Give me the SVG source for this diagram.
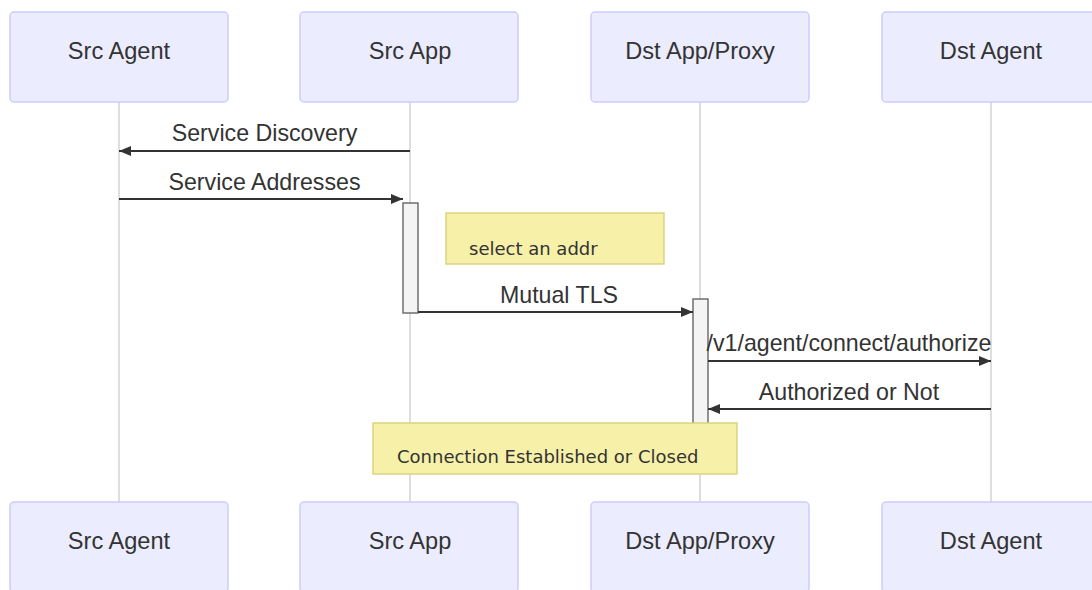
<svg xmlns="http://www.w3.org/2000/svg" width="1092" height="590" viewBox="0 0 1092 590">
<defs>
<style>
.actor{fill:#ECECFF;stroke:#CCCCFF;stroke-width:1.5}
.atext{font-family:"Liberation Sans",Arial,sans-serif;font-size:23.6px;fill:#333;text-anchor:middle}
.life{stroke:#cccccc;stroke-width:1.3;fill:none}
.msg{stroke:#333;stroke-width:2.2;fill:none;marker-end:url(#ah)}
.mtext{font-family:"Liberation Sans",Arial,sans-serif;font-size:23.2px;fill:#333;text-anchor:middle}
.act{fill:#f4f4f4;stroke:#666;stroke-width:1.4}
.note{fill:#f6f0a8;stroke:#d8d27a;stroke-width:1.4}
.ntext{font-family:"DejaVu Sans",Verdana,sans-serif;font-size:18px;fill:#333}
</style>
<marker id="ah" viewBox="0 0 12 10" refX="12" refY="5" markerWidth="12" markerHeight="10" markerUnits="userSpaceOnUse" orient="auto">
<path d="M0,0 L12,5 L0,10 z" fill="#333"/>
</marker>
</defs>
<rect width="1092" height="590" fill="#ffffff"/>
<g id="lifelines">
<line class="life" x1="119" y1="102" x2="119" y2="502"/>
<line class="life" x1="410" y1="102" x2="410" y2="502"/>
<line class="life" x1="700" y1="102" x2="700" y2="502"/>
<line class="life" x1="991" y1="102" x2="991" y2="502"/>
</g>
<g id="actor-src-agent">
<rect class="actor" x="10" y="12" width="218" height="90" rx="4"/>
<text class="atext" x="119" y="59">Src Agent</text>
</g>
<g id="actor-src-app">
<rect class="actor" x="300" y="12" width="218" height="90" rx="4"/>
<text class="atext" x="410" y="59">Src App</text>
</g>
<g id="actor-dst-app">
<rect class="actor" x="591" y="12" width="218" height="90" rx="4"/>
<text class="atext" x="700" y="59">Dst App/Proxy</text>
</g>
<g id="actor-dst-agent">
<rect class="actor" x="882" y="12" width="218" height="90" rx="4"/>
<text class="atext" x="991" y="59">Dst Agent</text>
</g>
<g id="actor-src-agent-bottom">
<rect class="actor" x="10" y="502" width="218" height="90" rx="4"/>
<text class="atext" x="119" y="549">Src Agent</text>
</g>
<g id="actor-src-app-bottom">
<rect class="actor" x="300" y="502" width="218" height="90" rx="4"/>
<text class="atext" x="410" y="549">Src App</text>
</g>
<g id="actor-dst-app-bottom">
<rect class="actor" x="591" y="502" width="218" height="90" rx="4"/>
<text class="atext" x="700" y="549">Dst App/Proxy</text>
</g>
<g id="actor-dst-agent-bottom">
<rect class="actor" x="882" y="502" width="218" height="90" rx="4"/>
<text class="atext" x="991" y="549">Dst Agent</text>
</g>
<g id="activation-src-app">
<rect class="act" x="403" y="203" width="15" height="110"/>
</g>
<g id="activation-dst-app">
<rect class="act" x="693" y="299" width="15" height="130"/>
</g>
<g id="note-select">
<rect class="note" x="446" y="213" width="218" height="51"/>
<text class="ntext" x="469" y="255">select an addr</text>
</g>
<g id="connectors">
<line class="msg" x1="410" y1="151" x2="119" y2="151"/>
<text class="mtext" x="264.5" y="141">Service Discovery</text>
<line class="msg" x1="119" y1="199" x2="403" y2="199"/>
<text class="mtext" x="264.5" y="190">Service Addresses</text>
<line class="msg" x1="418" y1="312" x2="693" y2="312"/>
<text class="mtext" x="559" y="303">Mutual TLS</text>
<line class="msg" x1="708" y1="361" x2="991" y2="361"/>
<text class="mtext" x="849" y="351">/v1/agent/connect/authorize</text>
<line class="msg" x1="991" y1="409" x2="708" y2="409"/>
<text class="mtext" x="849" y="400">Authorized or Not</text>
</g>
<g id="note-connection">
<rect class="note" x="373" y="423" width="364" height="51"/>
<text class="ntext" x="397" y="463">Connection Established or Closed</text>
</g>
</svg>
